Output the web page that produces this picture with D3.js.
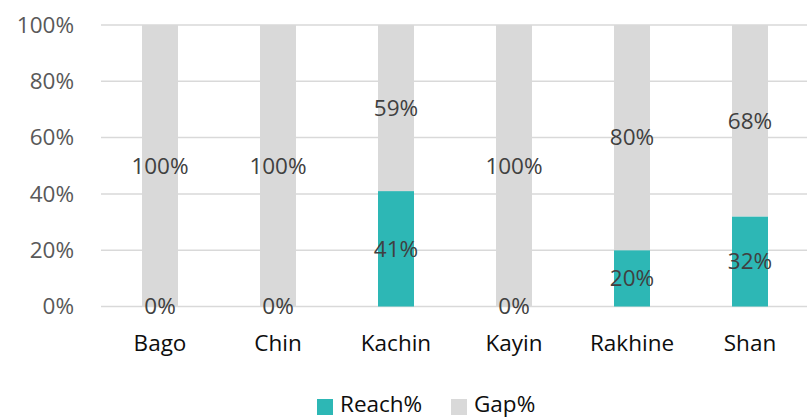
<!DOCTYPE html>
<html><head><meta charset="utf-8">
<script src="https://cdn.jsdelivr.net/npm/d3@7"></script>
<style>body{margin:0;background:#fff;} text{font-family:"Open Sans","Liberation Sans",sans-serif;}</style>
</head><body>
<svg id="c" width="807" height="419"></svg>
<script>
const categories = ["Bago","Chin","Kachin","Kayin","Rakhine","Shan"];
const reach = [0,0,41,0,20,32];
const gap = [100,100,59,100,80,68];
const yTicks = [0,20,40,60,80,100];
const seriesNames = ["Reach%","Gap%"];
const colors = ["#2DB7B5","#D9D9D9"];

(function(){
const FS = 22.5;
const svg = d3.select("#c");
const pLeft = 101, pRight = 809, pTop = 25, pBottom = 306.5;
const x = d3.scaleBand().domain(categories).range([pLeft, pRight]).paddingInner(0.695).paddingOuter(0.3475);
const y = d3.scaleLinear().domain([0,100]).range([pBottom, pTop]);

svg.append("g").selectAll("line").data(yTicks).join("line")
  .attr("x1", pLeft).attr("x2", 807)
  .attr("y1", d=>y(d)).attr("y2", d=>y(d))
  .attr("stroke", "#D9D9D9").attr("stroke-width", 1.5);

const yAxis = d3.axisLeft(y).tickValues(yTicks).tickFormat(d=>d+"%").tickSize(0).tickPadding(0);
const ya = svg.append("g").attr("transform", `translate(74,0)`).call(yAxis);
ya.select(".domain").remove();
ya.selectAll("text").attr("font-size", FS).attr("fill", "#595959").attr("font-family", "'Open Sans','Liberation Sans',sans-serif");

const data = categories.map((c,i)=>({c, r:reach[i], g:gap[i]}));
const stack = d3.stack().keys(["r","g"])(data);

const bw = x.bandwidth();
stack.forEach((s,si)=>{
  svg.append("g").selectAll("rect").data(s).join("rect")
    .attr("x", d=>x(d.data.c)).attr("width", bw)
    .attr("y", d=>y(d[1])).attr("height", d=>y(d[0])-y(d[1]))
    .attr("fill", colors[si]);
});
stack.forEach((s,si)=>{
  svg.append("g").selectAll("text").data(s).join("text")
    .attr("x", d=>x(d.data.c)+bw/2).attr("y", d=>y((d[0]+d[1])/2))
    .attr("dy", "0.35em").attr("text-anchor","middle")
    .attr("font-size", FS).attr("fill", "#404040")
    .text(d=>(d[1]-d[0])+"%");
});

const xAxis = d3.axisBottom(x).tickSize(0).tickPadding(0);
const xa = svg.append("g").attr("transform", `translate(0,${pBottom})`).call(xAxis);
xa.select(".domain").remove();
xa.selectAll("text").attr("font-size", FS).attr("fill", "#0D0D0D").attr("dy", null).attr("y", 44)
  .attr("font-family", "'Open Sans','Liberation Sans',sans-serif");

const lx = [317, 451];
const lg = svg.append("g");
seriesNames.forEach((n,i)=>{
  lg.append("rect").attr("x", lx[i]).attr("y", 399).attr("width", 16).attr("height", 16).attr("fill", colors[i]);
  lg.append("text").attr("x", lx[i]+23).attr("y", 412).attr("font-size", FS).attr("fill", "#0D0D0D").text(n);
});
})();
</script>
</body></html>
